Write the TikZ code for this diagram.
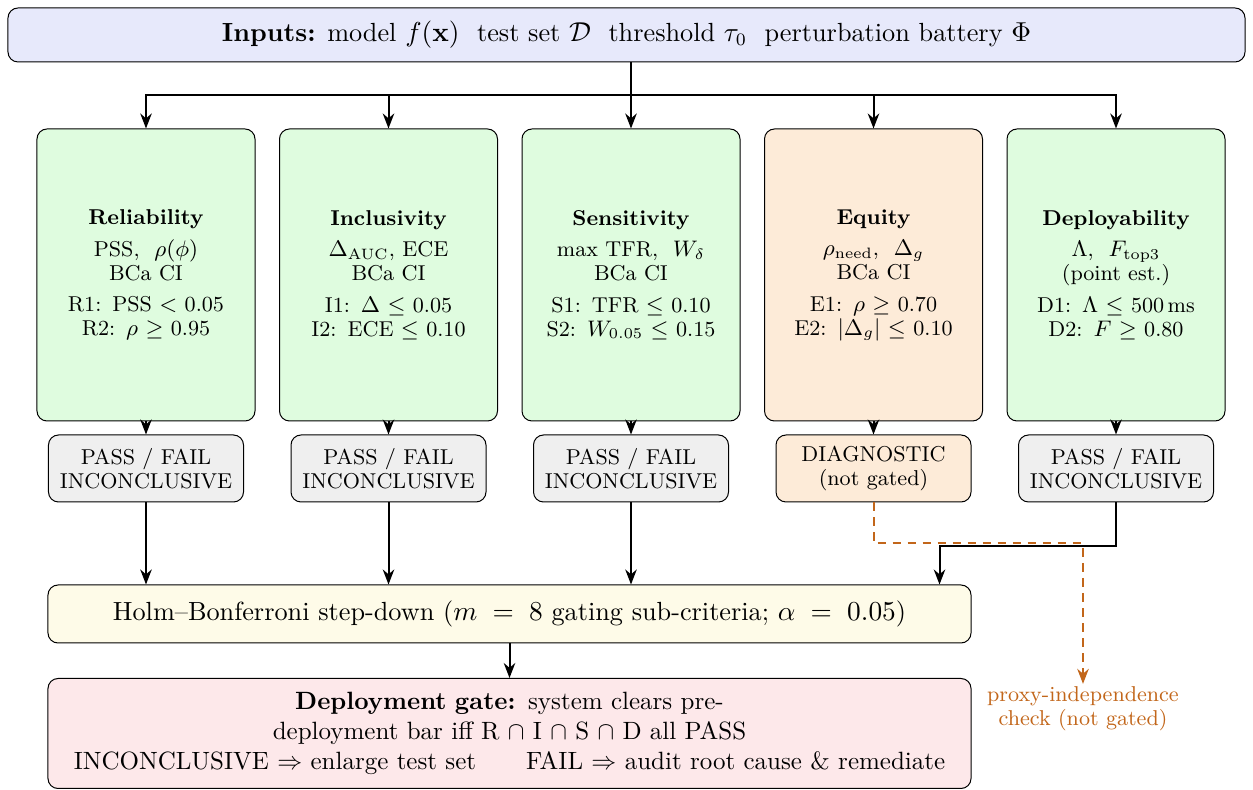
\documentclass[tikz,border=0pt]{standalone}
\usepackage{amsmath,amssymb}
\usetikzlibrary{positioning,arrows.meta}

\definecolor{inblue}{HTML}{E7E9FB}
\definecolor{critgreen}{HTML}{DFFCDF}
\definecolor{critorange}{HTML}{FDEBD8}
\definecolor{verdgray}{HTML}{EFEFEF}
\definecolor{holmyellow}{HTML}{FEFBE8}
\definecolor{gatered}{HTML}{FDE8EA}
\definecolor{proxyorange}{HTML}{C2661A}

\newcommand{\boxfont}{\fontsize{8.6pt}{9.6pt}\selectfont}
\newcommand{\bigfont}{\fontsize{10.5pt}{12.6pt}\selectfont}

\begin{document}
\begin{tikzpicture}[x=0.4pt, y=-0.4pt, >={Stealth[length=6pt,width=4.6pt]},
    box/.style={draw, rounded corners=4pt, align=center, inner sep=2pt},
    crit/.style={box, fill=critgreen, minimum width=87.2pt, minimum height=116.8pt, font=\boxfont},
    verdict/.style={box, fill=verdgray, minimum width=78pt, minimum height=26.8pt, font=\boxfont},
    link/.style={->, thick}]
    \useasboundingbox (0,0) rectangle (1253,790);

    % Inputs
    \node[box, fill=inblue, minimum width=494.8pt, minimum height=21.6pt, font=\bigfont] (in) at (626.5,35)
        {\textbf{Inputs:} model $f(\mathbf{x})$\ \ test set $\mathcal{D}$\ \ threshold $\tau_0$\ \ perturbation battery $\Phi$};

    % Criteria
    \node[crit] (rel) at (146,275) {\textbf{Reliability}\\[3pt] PSS,\ \ $\rho(\phi)$\\ BCa CI\\[3pt] R1:\ \,PSS $<$ 0.05\\ R2:\ \,$\rho$ $\geq$ 0.95};
    \node[crit] (inc) at (388.5,275) {\textbf{Inclusivity}\\[3pt] $\Delta_{\text{AUC}}$, ECE\\ BCa CI\\[3pt] I1:\ \,$\Delta$ $\leq$ 0.05\\ I2:\ \,ECE $\leq$ 0.10};
    \node[crit] (sen) at (631,275) {\textbf{Sensitivity}\\[3pt] max TFR,\ \ $W_\delta$\\ BCa CI\\[3pt] S1:\ \,TFR $\leq$ 0.10\\ S2:\ \,$W_{0.05}$ $\leq$ 0.15};
    \node[crit, fill=critorange] (equ) at (873.5,275) {\textbf{Equity}\\[3pt] $\rho_{\text{need}}$,\ \ $\Delta_g$\\ BCa CI\\[3pt] E1:\ \,$\rho$ $\geq$ 0.70\\ E2:\ \,$|\Delta_g|$ $\leq$ 0.10};
    \node[crit] (dep) at (1116,275) {\textbf{Deployability}\\[3pt] $\Lambda$,\ \ $F_{\text{top3}}$\\ (point est.)\\[3pt] D1:\ \,$\Lambda$ $\leq$ 500\,ms\\ D2:\ \,$F$ $\geq$ 0.80};

    % Verdicts
    \node[verdict] (vrel) at (146,468.5) {PASS / FAIL\\INCONCLUSIVE};
    \node[verdict] (vinc) at (388.5,468.5) {PASS / FAIL\\INCONCLUSIVE};
    \node[verdict] (vsen) at (631,468.5) {PASS / FAIL\\INCONCLUSIVE};
    \node[verdict, fill=critorange] (vequ) at (873.5,468.5) {DIAGNOSTIC\\(not gated)};
    \node[verdict] (vdep) at (1116,468.5) {PASS / FAIL\\INCONCLUSIVE};

    % Holm and gate
    \node[box, fill=holmyellow, minimum width=369.2pt, minimum height=23.2pt, font=\bigfont] (holm) at (509.5,614)
        {Holm--Bonferroni step-down ($m\;=\;8$ gating sub-criteria; $\alpha\;=\;0.05$)};
    \node[box, fill=gatered, minimum width=369.2pt, minimum height=44pt, text width=360pt] (gate) at (509.5,733.5)
        {\textbf{Deployment gate:} system clears pre-\\ deployment bar iff R $\cap$ I $\cap$ S $\cap$ D all PASS\\
        INCONCLUSIVE $\Rightarrow$ enlarge test set\qquad FAIL $\Rightarrow$ audit root cause \& remediate};
    \node[align=center, text=proxyorange, font=\boxfont, inner sep=1pt] (proxy) at (1083,709)
        {proxy-independence\\check (not gated)};

    % Connectors
    \coordinate (bus) at (631,95);
    \draw[thick] (bus |- in.south) -- (bus);
    \foreach \n in {rel,inc,sen,equ,dep} {
        \draw[link] (bus) -| (\n.north);
        \draw[link] (\n.south) -- (v\n.north);
    }
    \foreach \n in {rel,inc,sen} \draw[link] (v\n.south) -- (v\n.south |- holm.north);
    \draw[link] (vdep.south) -- ++(0,44) -| ([xshift=-12.8pt]holm.north east);
    \draw[->, thick, dash pattern=on 3.5pt off 2.5pt, proxyorange] (vequ.south) -- ++(0,41) -| (proxy.north);
    \draw[link] (holm.south) -- (gate.north);

\end{tikzpicture}
\end{document}
